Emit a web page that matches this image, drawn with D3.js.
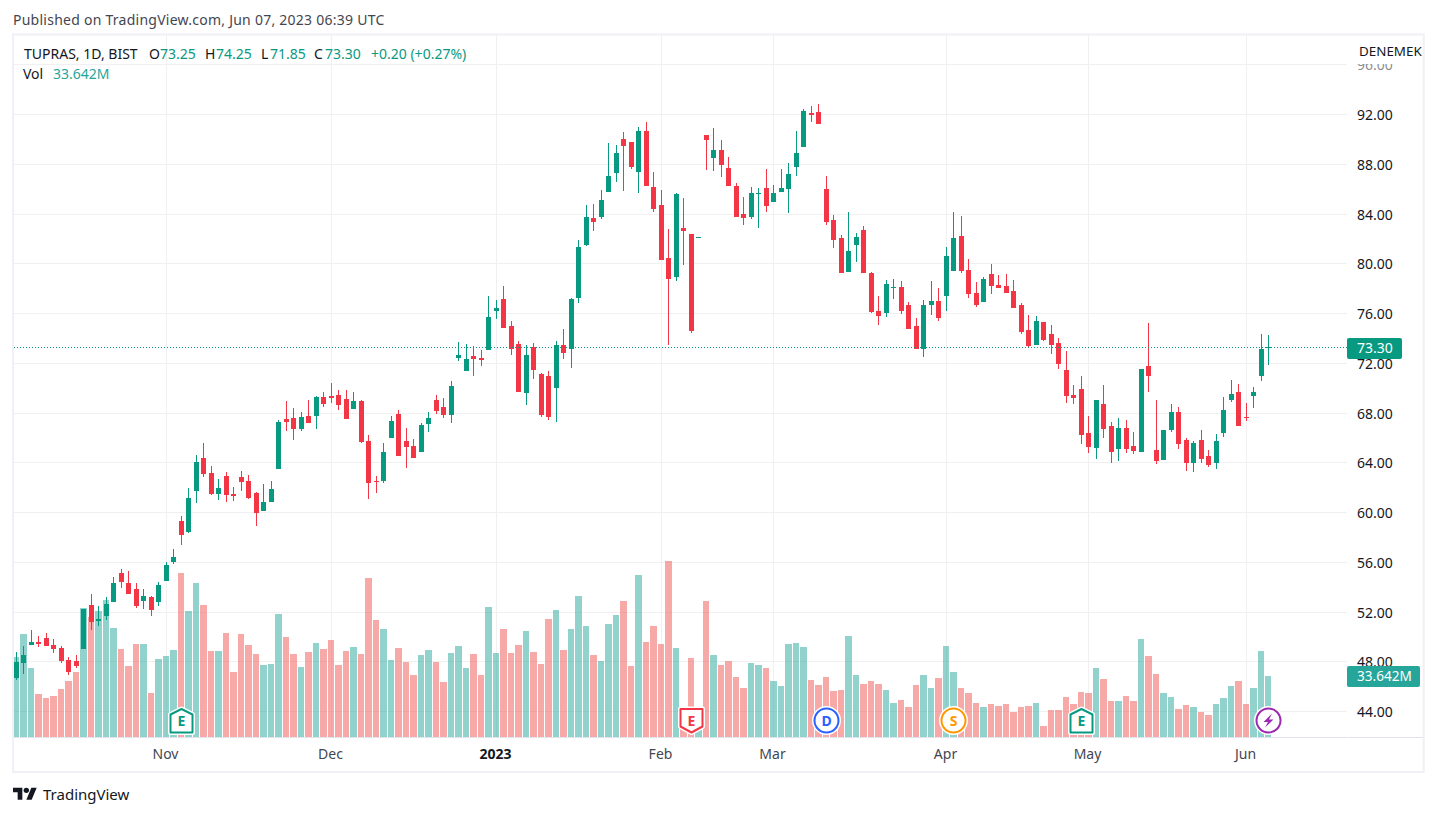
<!DOCTYPE html>
<html><head><meta charset="utf-8">
<script src="https://cdnjs.cloudflare.com/ajax/libs/d3/7.8.5/d3.min.js"></script>
<style>html,body{margin:0;padding:0;background:#fff;overflow:hidden}svg{display:block}text{font-family:"Noto Sans",sans-serif}</style>
</head><body><svg id="c" width="1437" height="816"></svg>
<script>
const opens=[46.65,47.90,49.35,49.60,49.90,49.35,49.10,48.15,48.05,49.00,52.55,51.25,51.65,52.80,55.15,54.35,53.85,52.90,53.20,52.80,54.50,56.00,59.30,58.40,61.70,64.35,63.15,61.50,62.95,61.50,62.85,62.55,61.55,60.10,60.85,63.50,67.50,67.60,66.70,67.75,67.75,69.25,69.35,69.45,69.10,68.30,68.95,65.75,62.50,62.50,66.00,67.90,65.75,65.35,64.85,67.10,69.05,68.45,67.85,72.40,71.35,72.55,72.40,73.05,76.20,77.15,75.00,73.55,69.60,73.30,71.10,71.00,70.00,73.45,73.15,77.25,81.50,83.65,83.75,85.75,87.30,90.00,89.75,87.35,90.65,86.15,84.70,80.45,78.90,82.85,82.40,82.10,90.35,88.50,89.15,87.70,86.25,84.00,83.75,85.60,86.10,84.95,85.75,86.00,87.75,89.40,92.10,92.20,86.00,83.50,82.05,79.30,81.50,82.70,79.25,76.20,76.00,78.05,78.10,76.65,75.00,73.15,76.65,77.00,77.40,79.40,82.20,79.50,77.65,76.90,79.15,78.25,78.20,77.80,76.65,74.65,73.45,75.30,74.35,73.60,71.45,69.45,69.90,66.40,65.15,68.70,66.95,65.10,66.80,65.35,64.85,71.75,65.00,64.20,66.60,68.05,65.80,63.95,65.80,64.55,63.95,66.40,69.05,69.70,67.65,69.35,70.95,73.25];
const highs=[48.75,49.25,50.55,50.05,50.30,49.80,49.25,48.35,48.55,52.25,53.45,52.50,53.20,54.80,55.45,55.30,54.35,53.85,53.30,54.40,56.00,57.05,59.70,61.95,64.60,65.60,63.75,62.70,63.25,62.05,63.35,63.00,61.65,62.30,62.55,67.40,68.95,68.40,68.05,69.05,69.35,69.70,70.40,69.85,69.85,69.70,69.05,66.20,62.90,65.55,67.75,68.25,66.80,65.90,67.20,68.05,69.45,69.20,70.55,73.70,73.55,73.35,73.05,77.40,77.05,78.20,75.40,73.80,73.45,73.60,71.20,71.35,73.75,74.75,77.25,81.90,84.70,84.80,85.90,89.70,89.55,90.60,89.75,91.00,91.40,87.35,85.90,82.80,85.65,85.25,82.40,82.15,90.35,90.90,89.95,88.55,86.50,85.35,86.15,86.10,87.60,86.30,87.60,88.10,90.65,92.45,92.65,92.85,87.05,83.90,82.30,84.15,82.45,83.00,79.30,77.40,78.70,78.75,78.60,76.90,75.60,77.05,78.60,78.05,81.35,84.15,83.80,80.35,78.50,78.90,79.95,79.10,79.15,78.70,76.85,75.85,75.80,75.30,75.05,74.00,72.95,70.25,70.95,67.75,69.05,70.25,67.25,67.60,67.45,66.45,71.55,75.20,69.05,66.60,68.70,68.45,66.00,65.75,66.60,65.00,66.30,69.30,70.65,70.30,68.80,70.10,74.35,74.25];
const lows=[46.55,47.00,49.35,49.20,49.25,48.70,47.90,46.95,47.50,49.00,50.55,50.85,51.35,52.80,53.90,53.45,52.30,52.25,51.65,52.50,54.50,55.85,57.40,58.35,60.75,62.85,61.40,61.00,60.85,60.90,61.70,61.10,58.90,60.10,60.85,63.50,66.55,65.80,66.55,67.20,66.70,68.45,68.80,68.25,67.50,68.30,65.55,61.05,61.55,62.35,66.00,64.55,63.55,64.35,64.85,66.45,67.90,67.60,67.20,72.15,71.35,70.95,71.75,73.05,75.55,74.80,72.65,69.70,68.65,70.70,67.65,67.45,67.25,72.35,71.60,76.85,81.40,82.60,83.60,85.75,86.55,85.85,87.60,85.65,86.25,84.15,80.30,73.45,78.60,79.90,74.40,82.10,87.50,87.45,86.95,86.25,83.75,83.10,83.60,82.85,84.15,84.95,85.75,84.05,87.05,89.40,91.40,91.20,83.10,81.25,79.25,79.30,80.10,79.25,76.00,75.05,75.70,77.15,75.95,74.75,73.15,72.50,75.85,75.40,76.20,79.40,79.25,77.25,76.50,76.90,77.55,78.05,77.65,76.40,74.35,73.20,73.45,73.75,72.75,71.50,68.80,68.70,65.50,64.75,64.30,66.00,63.95,64.15,64.75,64.70,64.85,69.70,63.90,64.20,66.45,65.10,63.35,63.25,63.95,63.65,63.50,66.05,68.85,66.95,67.35,68.40,70.55,71.85];
const closes=[48.00,48.55,49.60,49.40,49.25,49.00,48.05,47.15,47.65,52.25,51.20,51.45,52.65,54.35,54.40,53.45,52.50,53.30,52.15,54.15,55.75,56.40,58.20,61.15,64.05,63.10,61.50,61.95,61.40,61.30,62.45,61.15,59.95,60.85,61.90,67.25,67.25,66.70,67.65,67.20,69.25,68.70,69.20,68.65,67.50,68.95,65.65,62.35,62.45,64.85,67.35,64.55,65.25,64.35,67.00,67.60,68.15,67.85,70.15,72.65,72.35,72.35,72.25,75.70,76.45,74.80,73.15,69.70,72.65,71.45,67.85,67.65,73.45,72.80,77.15,81.35,83.75,83.35,85.10,87.05,88.90,89.45,87.75,90.65,86.25,84.40,80.30,78.75,85.60,82.60,74.60,82.15,89.95,89.15,87.90,86.25,83.75,83.65,85.65,85.70,84.65,85.65,86.10,87.20,88.90,92.25,91.95,91.20,83.35,81.90,79.25,81.00,82.15,79.25,76.10,75.80,78.35,78.10,76.20,74.75,73.15,76.65,77.00,75.60,80.60,82.05,79.40,77.55,76.65,78.75,78.20,78.05,77.65,76.40,74.50,73.35,75.40,73.85,73.45,71.90,69.35,69.20,66.20,65.25,69.05,66.70,64.85,66.80,65.10,64.95,71.55,70.95,64.15,66.60,68.05,65.50,63.95,65.60,64.30,63.80,65.75,68.25,69.50,66.95,67.60,69.70,73.10,73.30];
const volumes=[44.1,56.7,38.0,23.8,21.6,22.7,26.5,30.9,35.8,70.8,66.0,69.3,75.3,60.0,48.5,39.1,51.2,51.2,24.3,43.0,44.6,47.9,90.1,69.3,84.7,72.6,47.4,47.4,57.2,35.8,56.7,50.6,45.7,39.7,40.2,67.7,55.0,45.7,38.6,46.8,51.7,48.5,53.4,39.7,47.4,49.6,45.7,87.4,64.4,59.4,42.4,49.0,41.3,34.2,45.2,47.9,41.3,30.4,46.3,50.1,38.0,45.7,34.2,71.5,46.3,59.4,46.3,50.6,58.3,46.8,40.2,64.9,69.8,47.9,59.4,77.5,61.1,45.2,41.9,62.2,67.1,74.8,39.1,89.0,52.3,61.1,51.2,96.7,49.0,14.1,43.5,4.0,74.8,45.2,39.7,41.9,33.1,27.1,40.8,39.7,38.0,30.9,28.2,51.2,51.7,49.6,31.4,28.7,33.1,25.4,26.0,55.6,34.2,29.3,30.9,29.3,26.0,18.8,20.5,16.6,28.7,34.2,27.1,32.5,50.1,35.8,27.1,24.3,18.8,16.6,18.3,17.2,18.3,13.9,16.6,17.2,18.8,6.2,15.0,15.0,22.1,18.3,24.9,24.3,38.0,32.0,19.9,19.9,22.7,19.9,53.9,44.6,34.7,24.3,22.1,15.5,17.7,16.6,13.9,12.3,18.3,21.6,28.2,30.9,18.3,27.1,47.4,33.642];
const priceTicks=[96,92,88,84,80,76,72,68,64,60,56,52,48,44];
const monthLabels=["Nov","Dec","2023","Feb","Mar","Apr","May","Jun"];
const monthIndex=[20,42,64,86,101,124,143,164];
const markerIndex=[22,90,108,125,142,167];
const markerKind=["E+","E-","D","S","E+","bolt"];
const markerColor=["#089981","#f23645","#2962ff","#ff9800","#089981","#9c27b0"];
const lastClose=73.30,lastVolume=33.642;

const UP="#089981",DOWN="#f23645",VUP="#26a69a",VDOWN="#ef5350",INK="#131722",FONT=14;
const svg=d3.select("#c");
const x=d3.scaleLinear().domain([0,167]).range([16.5,1268.5]);
const col=i=>Math.floor(x(i));
const y=d3.scaleLinear().domain([44,92]).range([711.4,114.3]);
const yV=d3.scaleLinear().domain([0,100]).range([737.3,555.1]);
const gridY=p=>Math.round(y(p)-0.2)+0.5;
const data=d3.range(closes.length).map(i=>({i,o:opens[i],h:highs[i],l:lows[i],c:closes[i],v:volumes[i],up:closes[i]>=opens[i]}));

svg.append("rect").attr("width",1437).attr("height",816).attr("fill","#fff");
svg.append("rect").attr("x",13).attr("y",34.5).attr("width",1410.7).attr("height",737.5).attr("fill","none").attr("stroke","#f0f0f6").attr("stroke-width",2);
svg.append("defs").append("clipPath").attr("id","pane").append("rect").attr("x",14).attr("y",35.5).attr("width",1333).attr("height",701.5);

const grid=svg.append("g").attr("stroke","#f0f0f2").attr("stroke-width",1);
grid.selectAll(".h").data(priceTicks).join("line").attr("x1",14).attr("x2",1347).attr("y1",gridY).attr("y2",gridY);
grid.selectAll(".v").data(monthIndex).join("line").attr("x1",i=>col(i)+.5).attr("x2",i=>col(i)+.5).attr("y1",35.5).attr("y2",737);

const pane=svg.append("g").attr("clip-path","url(#pane)");
pane.append("g").selectAll("rect").data(data).join("rect")
  .attr("x",d=>col(d.i)-3).attr("width",d=>col(d.i+1)-4-(col(d.i)-3))
  .attr("y",d=>Math.round(yV(d.v))).attr("height",d=>737-Math.round(yV(d.v)))
  .attr("fill",d=>d.up?VUP:VDOWN).attr("fill-opacity",.5);
const cg=pane.append("g");
cg.selectAll(".w").data(data).join("rect").attr("x",d=>col(d.i)).attr("width",1)
  .attr("y",d=>Math.round(y(d.h))).attr("height",d=>Math.max(1,Math.round(y(d.l))-Math.round(y(d.h))))
  .attr("fill",d=>d.up?UP:DOWN);
cg.selectAll(".b").data(data).join("rect").attr("x",d=>col(d.i)-2).attr("width",5)
  .attr("y",d=>Math.round(y(Math.max(d.o,d.c)))).attr("height",d=>Math.max(1,Math.round(y(Math.min(d.o,d.c)))-Math.round(y(Math.max(d.o,d.c)))))
  .attr("fill",d=>d.up?UP:DOWN);

pane.append("line").attr("x1",14).attr("x2",1347).attr("y1",Math.round(y(lastClose))+.5).attr("y2",Math.round(y(lastClose))+.5)
  .attr("stroke",UP).attr("stroke-width",1).attr("stroke-dasharray","1 2");

// event markers
const mk=svg.append("g");
markerIndex.forEach((m,k)=>{
  const cx=col(m)+.5,c=markerColor[k],kind=markerKind[k],g=mk.append("g");
  const cy=720.5;
  if(kind==="E+"||kind==="E-"){
    const d=kind==="E+"
      ?`M${cx},709 L${cx+11},714.5 V732.5 H${cx-11} V714.5 Z`
      :`M${cx-11},709 H${cx+11} V726.5 L${cx},732.5 L${cx-11},726.5 Z`;
    g.append("path").attr("d",d).attr("fill","#fff").attr("stroke","#fff").attr("stroke-width",5).attr("stroke-linejoin","round");
    g.append("path").attr("d",d).attr("fill","#fff").attr("stroke",c).attr("stroke-width",2).attr("stroke-linejoin","round");
    g.append("text").attr("x",cx).attr("y",cy+5).attr("text-anchor","middle").attr("font-size",14).attr("font-weight",700).attr("fill",c).text("E");
  }else{
    g.append("circle").attr("cx",cx).attr("cy",cy).attr("r",12).attr("fill","#fff").attr("stroke","#fff").attr("stroke-width",5);
    g.append("circle").attr("cx",cx).attr("cy",cy).attr("r",12).attr("fill","#fff").attr("stroke",c).attr("stroke-width",2);
    if(kind==="bolt"){
      g.append("path").attr("d",`M${cx+3.5},713.5 L${cx-5},722 H${cx-.5} L${cx-3.5},727.5 L${cx+5},719.5 H${cx+.5} Z`).attr("fill",c);
    }else{
      g.append("text").attr("x",cx).attr("y",cy+5).attr("text-anchor","middle").attr("font-size",14).attr("font-weight",700).attr("fill",c).text(kind);
    }
  }
});

// axis lines
svg.append("line").attr("x1",14).attr("x2",1347).attr("y1",737.5).attr("y2",737.5).attr("stroke","#e0e3eb");
svg.append("line").attr("x1",1348).attr("x2",1423).attr("y1",737.5).attr("y2",737.5).attr("stroke","#e0e3eb");

const txt=(s,xp,yp,fill=INK,extra={})=>{
  const t=svg.append("text").attr("x",xp).attr("y",yp).attr("font-size",extra.size||FONT).attr("fill",fill).text(s);
  Object.entries(extra).forEach(([k,v])=>{if(k!=="size")t.attr(k,v)});
  return t;
};
// price axis
priceTicks.forEach(p=>txt(p.toFixed(2),1357,gridY(p)+5,INK,{opacity:p===96?.5:1}));
svg.append("rect").attr("x",1348).attr("y",36).attr("width",74).attr("height",28).attr("fill","#fff");
txt("DENEMEK",1359,56,INK,{size:13.4});
// time axis
monthLabels.forEach((s,k)=>txt(s,col(monthIndex[k])-.5,759,s==="2023"?INK:"#434651",{"text-anchor":"middle","font-weight":s==="2023"?700:400}));

// tags
svg.append("rect").attr("x",1347).attr("y",Math.round(y(lastClose))-9).attr("width",55).attr("height",21).attr("rx",2).attr("fill",UP);
txt(lastClose.toFixed(2),1357,Math.round(y(lastClose))+6,"#fff");
svg.append("rect").attr("x",1347).attr("y",Math.round(yV(lastVolume))-10).attr("width",73).attr("height",21).attr("rx",2).attr("fill",VUP);
txt(lastVolume.toFixed(3)+"M",1357,Math.round(yV(lastVolume))+5,"#fff",{size:13.6});

// header
txt("Published on TradingView.com, Jun 07, 2023 06:39 UTC",13,25,"#434651",{"letter-spacing":.25});
txt("TUPRAS, 1D, BIST",24,58.5);
[["O",149,INK],["73.25",160,UP],["H",205,INK],["74.25",216,UP],["L",261,INK],["71.85",270,UP],["C",314,INK],["73.30",325,UP],["+0.20 (+0.27%)",371,UP]].forEach(a=>txt(a[0],a[1],58.5,a[2]));
txt("Vol",23,79);
txt("33.642M",53,79,VUP);

// logo
const logo=svg.append("g").attr("transform","translate(13,785) scale(.667)").attr("fill",INK);
logo.append("path").attr("d","M14 22H7V11H0V4h14v18zM28 22h-8l7.5-18h8L28 22z");
logo.append("circle").attr("cx",20).attr("cy",8).attr("r",4);
txt("TradingView",43,800,"#131722",{size:15});
</script></body></html>
